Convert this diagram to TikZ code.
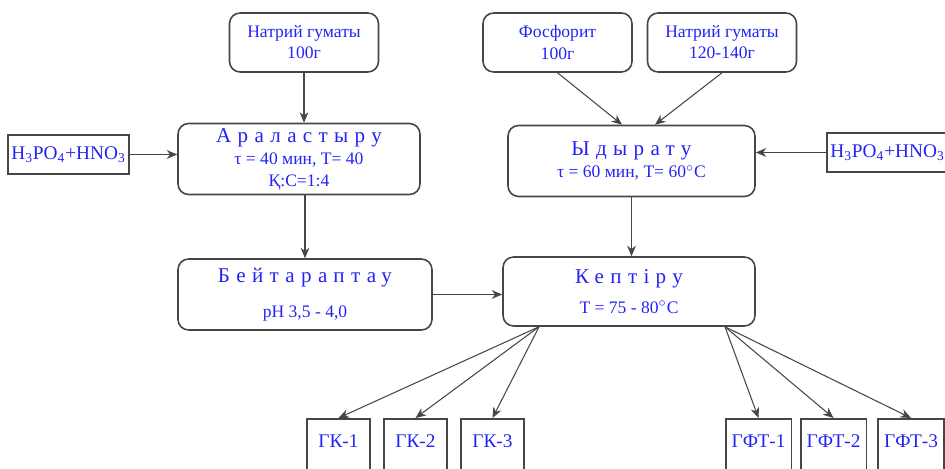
\documentclass[tikz,border=0pt]{standalone}
\usepackage{fontspec}
\setmainfont{Liberation Serif}
\newfontfamily\spacedfont[LetterSpace=30]{Liberation Serif}
\usepackage{xcolor}
\usepackage{tikz}
\usetikzlibrary{positioning, arrows.meta}
\definecolor{txtblue}{RGB}{35,35,245}
\definecolor{edgegray}{RGB}{70,70,70}
\newcommand{\stagettl}[1]{{\fontsize{12}{14}\spacedfont #1}}

\begin{document}
\begin{tikzpicture}[
    x=0.02cm, y=-0.02cm,
    every node/.style={font=\fontsize{10}{12}\selectfont, text=txtblue},
    box/.style={rectangle, draw=edgegray, line width=0.9pt, rounded corners=6pt, align=center, inner sep=2pt},
    feed/.style={box, minimum width=2.98cm, minimum height=1.18cm},
    stage/.style={box, minimum width=#1, minimum height=1.42cm},
    reag/.style={rectangle, draw=edgegray, line width=0.9pt, inner sep=2pt, minimum width=2.38cm, minimum height=0.78cm, font=\fontsize{11}{12}\selectfont},
    prod/.style={rectangle, draw=edgegray, line width=0.9pt, anchor=north, minimum width=1.26cm, inner ysep=3pt, text height=13.2pt, text depth=14pt, font=\fontsize{11}{12}\selectfont},
    arr/.style={-{Stealth[length=6pt, width=5pt]}, edgegray, line width=0.6pt},
]
    \useasboundingbox (0,0) rectangle (945,469);
    \clip (0,0) rectangle (945,469);

    % raw materials
    \node[feed] (ng1) at (304, 42.5)  {Натрий гуматы\\100г};
    \node[feed] (fos) at (557.5, 42.5) {Фосфорит\\100г};
    \node[feed] (ng2) at (722, 42.5)  {Натрий гуматы\\120-140г};

    \node[reag] (acidl) at (68.5, 154.5)  {H\textsubscript{3}PO\textsubscript{4}+HNO\textsubscript{3}};
    \node[reag] (acidr) at (887.5, 152.5) {H\textsubscript{3}PO\textsubscript{4}+HNO\textsubscript{3}};

    % process stages
    \node[stage=4.84cm] (mix) at (299, 159)
        {\stagettl{Араластыру}\\[1pt]
         τ = 40 мин, Т= 40\\
         Қ:С=1:4};
    \node[stage=4.94cm] (dis) at (631.5, 161)
        {\stagettl{Ыдырату}\\[1pt]
         τ = 60 мин, Т= 60$^{\circ}$С};
    \node[stage=5.08cm] (neut) at (305, 294.5)
        {\stagettl{Бейтараптау}\\[8pt]
         рН 3,5 - 4,0};
    \node[stage=5.04cm, minimum height=1.38cm] (dry) at (629, 291.5)
        {\stagettl{Кептіру}\\[5pt]
         Т = 75 - 80$^{\circ}$С};

    % products
    \node[prod] (gk1)  at (338.5, 418) {ГК-1};
    \node[prod] (gk2)  at (415.5, 418) {ГК-2};
    \node[prod] (gk3)  at (492.5, 418) {ГК-3};
    \node[prod] (gft1) at (758.5, 418) {ГФТ-1};
    \node[prod] (gft2) at (833.5, 418) {ГФТ-2};
    \node[prod] (gft3) at (911, 418)   {ГФТ-3};

    \coordinate (dryl) at ([xshift=-1.8cm]dry.south);
    \coordinate (dryr) at ([xshift=1.92cm]dry.south);

    \draw[arr] (ng1.south)   -- (ng1.south |- mix.north);
    \draw[arr] (acidl.east)  -- (acidl.east -| mix.west);
    \draw[arr] (fos.south)   -- ([xshift=-0.19cm]dis.north);
    \draw[arr] (ng2.south)   -- ([xshift=0.47cm]dis.north);
    \draw[arr] (acidr.west)  -- (acidr.west -| dis.east);
    \draw[arr] (neut.north |- mix.south) -- (neut.north);
    \draw[arr] (dis.south)   -- (dis.south |- dry.north);
    \draw[arr] (neut.east)   -- (neut.east -| dry.west);
    \foreach \p in {gk1, gk2, gk3}
        \draw[arr] (dryl) -- (\p.north);
    \foreach \p in {gft1, gft2, gft3}
        \draw[arr] (dryr) -- (\p.north);
\end{tikzpicture}
\end{document}
